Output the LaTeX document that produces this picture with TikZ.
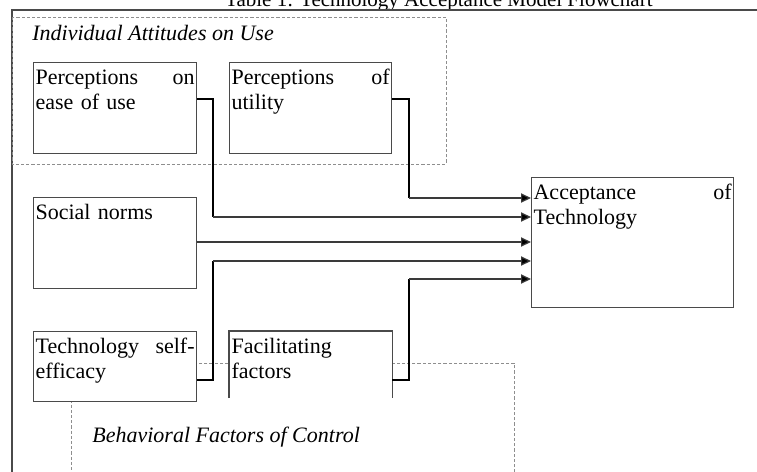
\documentclass[tikz,border=0pt]{standalone}
\usepackage{fontspec}
\setmainfont{Liberation Serif}
\usepackage{tikz}
\usetikzlibrary{arrows.meta,calc}
\definecolor{FrameGray}{HTML}{4A4A4A}
\definecolor{DotGray}{HTML}{8E8E8E}
\definecolor{FeedGray}{HTML}{3A3A3A}

\begin{document}
\begin{tikzpicture}[x=0.5pt,y=-0.5pt,
box/.style={draw=FrameGray,fill=white,line width=0.6pt,anchor=north west,inner xsep=1pt,inner ysep=0pt,align=left,text height=11pt,font=\fontsize{11}{12.5}\selectfont},
openbox/.style={box,draw=none},
boxline/.style={draw=FrameGray,line width=0.6pt},
group/.style={draw=DotGray,line width=0.5pt,dash pattern=on 1.6pt off 1pt},
grouplabel/.style={anchor=base west,inner sep=0pt,font=\fontsize{11}{12.5}\selectfont\itshape},
stub/.style={line width=1.2pt,black},
arr/.style={-{Triangle[length=5pt,width=4.6pt,fill=black]},line width=0.6pt,FeedGray}
]
\useasboundingbox (0,0) rectangle (757,472);
\node[anchor=base east,inner sep=0pt,font=\fontsize{10.5}{12.5}\selectfont] (title) at (653,6) {Table 1: Technology Acceptance Model Flowchart};
\draw[FrameGray,line width=0.75pt] (757,10) -- (12,10) -- (12,472);
\draw[group] (12,17) rectangle (446,164);
\draw[group] (71,363) rectangle (514,490);
\node[grouplabel] (attitudes) at (32,40) {Individual Attitudes on Use};
\node[grouplabel] (control) at (92,442) {Behavioral Factors of Control};
\node[box,text width=79.5pt,text depth=34.5pt] (ease) at (33,62) {Perceptions\hfill on\\ease of use};
\node[box,text width=79pt,text depth=34.5pt] (utility) at (229,62) {Perceptions\hfill of\\utility};
\node[box,text width=79.5pt,text depth=34.5pt] (norms) at (33,197) {Social norms};
\node[box,text width=79.5pt,text depth=24pt] (efficacy) at (33,331) {Technology\hfill self-\\efficacy};
\node[openbox,text width=79pt,text depth=22pt] (facil) at (229,331) {Facilitating\\factors};
\draw[boxline] (facil.south west) -- (facil.north west) -- (facil.north east) -- (facil.south east);
\node[box,text width=99pt,text depth=54pt] (accept) at (531,177) {Acceptance\hfill of\\Technology};
\coordinate (easeturn) at (213,217);
\coordinate (utilturn) at (409,198);
\coordinate (effturn) at (213,261);
\coordinate (facilturn) at (409,279);
\draw[stub] ($(ease.north east)+(0,37)$) -| (easeturn);
\draw[stub] ($(utility.north east)+(0,37)$) -| (utilturn);
\draw[stub] ($(efficacy.north east)+(0,49)$) -| (effturn);
\draw[stub] ($(facil.north east)+(0,49)$) -| (facilturn);
\draw[arr] (utilturn) -- (accept.west |- utilturn);
\draw[arr] (easeturn) -- (accept.west |- easeturn);
\draw[arr] ($(norms.north east)+(0,45)$) -- (accept.west |- {$(norms.north east)+(0,45)$});
\draw[arr] (effturn) -- (accept.west |- effturn);
\draw[arr] (facilturn) -- (accept.west |- facilturn);
\end{tikzpicture}
\end{document}
